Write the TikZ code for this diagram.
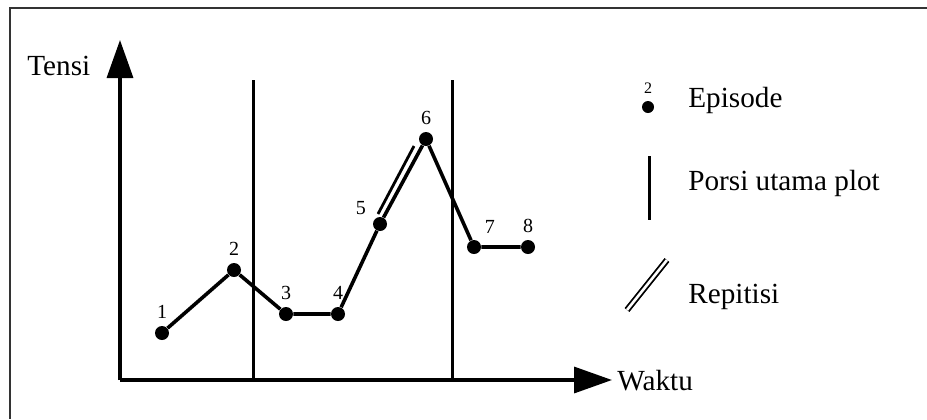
\documentclass[tikz,border=0pt]{standalone}
\usepackage{fontspec}
\setmainfont{Liberation Serif}
\usetikzlibrary{positioning, arrows.meta}

\begin{document}
\begin{tikzpicture}[
  x=0.5pt, y=-0.5pt,
  ep/.style={circle, fill=black, inner sep=0pt, minimum size=7pt,
             label distance=-1.5pt, font=\fontsize{10}{11}\selectfont},
  axis/.style={line width=1.7pt, -{Triangle[length=19pt, width=13pt]}},
  part/.style={line width=1.5pt},
  plot/.style={line width=1.8pt},
  rep/.style={double, double distance=1.3pt, line width=0.9pt},
  txt/.style={font=\fontsize{14.6}{17}\selectfont, anchor=base west, inner sep=0pt},
]
  \useasboundingbox (0,0) rectangle (927,419);
  % frame
  \draw[line width=1.1pt, black!80] (927,8) -- (10,8) -- (10,419);

  % axes
  \coordinate (o) at (120,380);
  \coordinate (ytip) at (120,40);
  \coordinate (xtip) at (612,380);
  \draw[axis] (o) -- (ytip);
  \draw[axis] (o) -- (xtip);
  \node[txt] (tensi) at (27,75) {Tensi};
  \node[txt] (waktu) at (617,390) {Waktu};

  % main parts of the plot
  \coordinate (p1) at (253,80);
  \coordinate (q1) at (253,380);
  \coordinate (p2) at (452,80);
  \coordinate (q2) at (452,380);
  \draw[part] (p1) -- (q1);
  \draw[part] (p2) -- (q2);

  % episodes
  \node[ep, label={above:1}] (e1) at (162,333) {};
  \node[ep, label={above:2}] (e2) at (234,270) {};
  \node[ep, label={above:3}] (e3) at (286,314) {};
  \node[ep, label={above:4}] (e4) at (338,314) {};
  \node[ep, label={160:5}] (e5) at (380,224) {};
  \node[ep, label={above:6}] (e6) at (426,139) {};
  \node[ep, label={60:7}] (e7) at (474,247) {};
  \node[ep, label={above:8}] (e8) at (528,247) {};
  \draw[plot] (e1) -- (e2) -- (e3) -- (e4) -- (e5) -- (e6) -- (e7) -- (e8);

  % repetition
  \coordinate (r1) at (378,214);
  \coordinate (r2) at (414,146);
  \draw[line width=1.4pt] (r1) -- (r2);

  % legend
  \node[ep, minimum size=6pt, label={[font=\fontsize{8}{9}\selectfont, label distance=0pt]above:2}] (lep) at (648,107) {};
  \node[txt] (lepT) at (688,107) {Episode};
  \coordinate (lp1) at (649,156);
  \coordinate (lp2) at (649,220);
  \draw[part] (lp1) -- (lp2);
  \node[txt] (lpT) at (688,190) {Porsi utama plot};
  \coordinate (lr1) at (627,310);
  \coordinate (lr2) at (667,260);
  \draw[rep] (lr1) -- (lr2);
  \node[txt] (lrT) at (688,303) {Repitisi};
\end{tikzpicture}
\end{document}
